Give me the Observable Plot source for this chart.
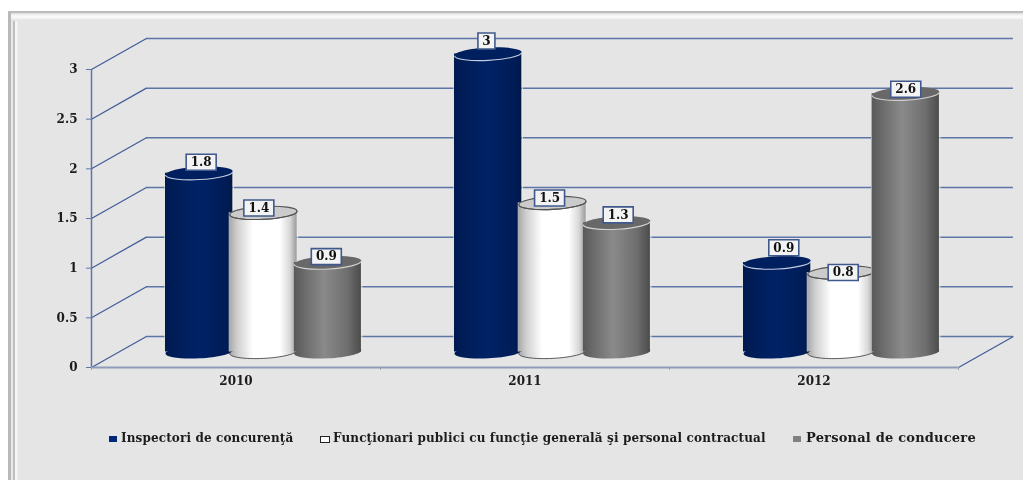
<!DOCTYPE html>
<html>
<head>
<meta charset="utf-8">
<script src="https://cdn.jsdelivr.net/npm/d3@7"></script>
<script src="https://cdn.jsdelivr.net/npm/@observablehq/plot@0.6"></script>
<style>
html,body{margin:0;padding:0;background:#fff;width:1023px;height:480px;overflow:hidden}
#page{position:relative;width:1023px;height:480px;overflow:hidden}
#frame{position:absolute;left:8px;top:11px;width:1100px;height:560px;background-color:#e5e5e5;
  border-left:3px solid #b9b9b9;border-top:2px solid #bcbcbc;
  background-image:linear-gradient(180deg,#dedede 0,#e6e6e6 1px,#fbfbfb 3px,#f6f6f6 5px,#e5e5e5 7px),linear-gradient(90deg,#e9e9e9 0 2px,#bebebe 2px 4px,#f6f6f6 4px 6px,#e5e5e5 7px);
  background-size:100% 8px,8px 100%;background-repeat:no-repeat}
#chart{position:absolute;left:0;top:0}
#chart svg{background:transparent!important;filter:blur(.35px)}
.lg{position:absolute;font:bold 12px "DejaVu Serif",serif;color:#1c1c1c;white-space:nowrap;line-height:14px;filter:blur(.35px)}
.sw{position:absolute;box-sizing:border-box}
</style>
</head>
<body>
<div id="page"><div id="frame"></div><div id="chart"></div></div>
<script>
// Data
const years = ["2010", "2011", "2012"];
const seriesNames = ["Inspectori de concurenţă", "Funcţionari publici cu funcţie generală şi personal contractual", "Personal de conducere"];
const inspectori = [1.8, 3, 0.9];
const functionari = [1.4, 1.5, 0.8];
const conducere = [0.9, 1.3, 2.6];
const yTicks = [0, 0.5, 1, 1.5, 2, 2.5, 3];

// Layout in scale units
const depthX = 0.19, depthY = 0.3125;
const barHalf = 0.1165, barStep = 0.2225;
// Small per-label nudges as seen in the reference (x in category units, y in value units)
const labelNudgeX = [[0.007,-0.006,0.023],[-0.016,-0.01,0.006],[-0.005,0.005,0]];
const labelNudgeY = [[0.11,0.13,0.15],[0.05,0.05,0],[0.06,0.08,0.045]];

const values = [inspectori, functionari, conducere];
const gradIds = ["gNavy", "gWhite", "gGray"];
const topFill = ["#001f5e", "#cbcbcb", "#686868"];
const topStroke = ["#c3cde0", "#555555", "#d2d2d2"];
const ink = "#1c1c1c", gridCol = "#5c76a6", diagCol = "#3f5c98";

function ellipsePoints(rx, ry, deg) {
  const t = deg * Math.PI / 180, c = Math.cos(t), s = Math.sin(t), k = 0.5523;
  return [[rx,0],[rx,k*ry],[k*rx,ry],[0,ry],[-k*rx,ry],[-rx,k*ry],[-rx,0],[-rx,-k*ry],[-k*rx,-ry],[0,-ry],[k*rx,-ry],[rx,-k*ry],[rx,0]]
    .map(q => [q[0] * c - q[1] * s, q[0] * s + q[1] * c]);
}
function ellipseSym(rx, ry, deg) {
  const pts = ellipsePoints(rx, ry, deg);
  return {draw(ctx) {
    ctx.moveTo(...pts[0]);
    for (let i = 1; i < pts.length; i += 3) ctx.bezierCurveTo(...pts[i], ...pts[i+1], ...pts[i+2]);
    ctx.closePath();
  }};
}
function frontArcSym(rx, ry, deg) {
  const pts = ellipsePoints(rx, ry, deg);
  return {draw(ctx) {
    ctx.moveTo(...pts[0]);
    for (let i = 1; i < 7; i += 3) ctx.bezierCurveTo(...pts[i], ...pts[i+1], ...pts[i+2]);
  }};
}
function boxSym(w, h) {
  return {draw(ctx) {
    ctx.moveTo(-w/2, -h/2); ctx.lineTo(w/2, -h/2); ctx.lineTo(w/2, h/2); ctx.lineTo(-w/2, h/2); ctx.closePath();
  }};
}
const cyl = ellipseSym(33.7, 6.4, -3);
const cylFront = frontArcSym(33.7, 6.4, -3);
const boxWide = boxSym(30, 16), boxNarrow = boxSym(17, 16);

const rows = values.map((vals, s) => vals.map((v, c) => ({
  value: v, s, c,
  pos: c + 0.5 + depthX / 2 + (s - 1) * barStep,
  lx: c + 0.5 + depthX / 2 + (s - 1) * barStep + labelNudgeX[s][c],
  ly: v + depthY / 2 + labelNudgeY[s][c]
})));
const flat = rows.flat();

const marks = [
  // walls
  Plot.ruleY(yTicks, {x1: depthX, x2: 3 + depthX, y: d => d + depthY, stroke: gridCol, strokeWidth: 1.5}),
  Plot.link(yTicks, {x1: 0, y1: d => d, x2: depthX, y2: d => d + depthY, stroke: diagCol, strokeWidth: 1.2}),
  Plot.link([0], {x1: 3, y1: 0, x2: 3 + depthX, y2: depthY, stroke: diagCol, strokeWidth: 1.2}),
  Plot.ruleX([0], {y1: 0, y2: 3, stroke: "#5c76a6", strokeWidth: 1.5}),
  Plot.ruleY([0], {x1: 0, x2: 3, stroke: "#8f9cb8", strokeWidth: 2}),
  Plot.axisY(yTicks, {anchor: "left", tickSize: 5, tickPadding: 9, stroke: "#5c76a6", fill: ink, fontSize: 12, fontWeight: "bold", fontFamily: "DejaVu Serif", label: null, tickFormat: d => String(d)}),
  Plot.axisX([0, 1, 2, 3], {anchor: "bottom", tickSize: 3, stroke: "#9aa0ac", tickFormat: () => "", label: null}),
  Plot.axisX([0.5, 1.5, 2.5], {anchor: "bottom", tickSize: 0, tickPadding: 9, fill: ink, fontSize: 12, fontWeight: "bold", fontFamily: "DejaVu Serif", label: null, tickFormat: d => years[d - 0.5]})
];

rows.forEach((r, s) => {
  const edge = {y1: () => depthY / 2, y2: d => d.value + depthY / 2, stroke: "#e9e9e9", strokeWidth: 1};
  marks.push(
    Plot.dot(r, {x: "pos", y: () => depthY / 2, symbol: cyl, fill: `url(#${gradIds[s]})`, stroke: s === 1 ? "#333" : "none", strokeWidth: 0.8}),
    Plot.ruleX(r, {x: d => d.pos - barHalf, ...edge, dx: -0.5}),
    Plot.ruleX(r, {x: d => d.pos + barHalf, ...edge, dx: 0.5}),
    Plot.rect(r, {x1: d => d.pos - barHalf, x2: d => d.pos + barHalf, y1: () => depthY / 2, y2: d => d.value + depthY / 2, fill: `url(#${gradIds[s]})`}),
    Plot.dot(r, {x: "pos", y: d => d.value + depthY / 2, symbol: cyl, fill: topFill[s], stroke: s === 1 ? topStroke[s] : "none", strokeWidth: 1.1}),
    Plot.dot(r, {x: "pos", y: d => d.value + depthY / 2, symbol: cylFront, fill: "none", stroke: topStroke[s], strokeWidth: 1.1})
  );
});

marks.push(
  Plot.dot(flat.filter(d => String(d.value).length > 1), {x: "lx", y: "ly", symbol: boxWide, fill: "#f3f3f3", stroke: "#40598c", strokeWidth: 1.6}),
  Plot.dot(flat.filter(d => String(d.value).length === 1), {x: "lx", y: "ly", symbol: boxNarrow, fill: "#f3f3f3", stroke: "#40598c", strokeWidth: 1.6}),
  Plot.text(flat, {x: "lx", y: "ly", text: d => String(d.value), fill: "#111", fontSize: 12, fontWeight: "bold", fontFamily: "DejaVu Serif", textAnchor: "middle", lineAnchor: "middle"})
);

const svg = Plot.plot({
  width: 1023, height: 480,
  marginLeft: 91, marginRight: 65, marginTop: 69, marginBottom: 113,
  style: {background: "transparent", overflow: "visible"},
  x: {domain: [0, 3], axis: null},
  y: {domain: [0, 3], axis: null},
  marks
});

const stops = (id, list) => `<linearGradient id="${id}" x1="0" x2="1" y1="0" y2="0">` + list.map(([o, c]) => `<stop offset="${o}" stop-color="${c}"/>`).join("") + `</linearGradient>`;
const defs = document.createElementNS("http://www.w3.org/2000/svg", "defs");
defs.innerHTML =
  stops("gNavy", [[0,"#001a4f"],[0.1,"#001c56"],[0.5,"#002266"],[0.9,"#001c56"],[1,"#001845"]]) +
  stops("gWhite", [[0,"#a8a8a8"],[0.12,"#d0d0d0"],[0.35,"#ffffff"],[0.75,"#ffffff"],[0.9,"#d8d8d8"],[1,"#9a9a9a"]]) +
  stops("gGray", [[0,"#585858"],[0.15,"#6a6a6a"],[0.45,"#8a8a8a"],[0.8,"#6e6e6e"],[1,"#4c4c4c"]]);
svg.insertBefore(defs, svg.firstChild);
document.getElementById("chart").appendChild(svg);

// Legend
const legendLayout = [
  {sw: 109, sww: 8, swh: 6, text: 121, size: 12, ls: 0.125, fill: "#00287a", stroke: "none"},
  {sw: 320, sww: 10, swh: 7, text: 333, size: 12, ls: 0.14, fill: "#fff", stroke: "#222"},
  {sw: 793, sww: 8, swh: 6, text: 806, size: 13, ls: 0.2, fill: "#808080", stroke: "none"}
];
const page = document.getElementById("page");
seriesNames.forEach((name, i) => {
  const l = legendLayout[i];
  const sw = document.createElement("div");
  sw.className = "sw";
  sw.style.cssText = `left:${l.sw}px;top:${439 - l.swh/2}px;width:${l.sww}px;height:${l.swh}px;background:${l.fill};border:${l.stroke === "none" ? "0" : "1px solid " + l.stroke}`;
  page.appendChild(sw);
  const t = document.createElement("div");
  t.className = "lg";
  t.textContent = name;
  t.style.left = l.text + "px";
  t.style.top = "431px";
  t.style.fontSize = l.size + "px";
  t.style.letterSpacing = l.ls + "px";
  page.appendChild(t);
});
</script>
</body>
</html>
